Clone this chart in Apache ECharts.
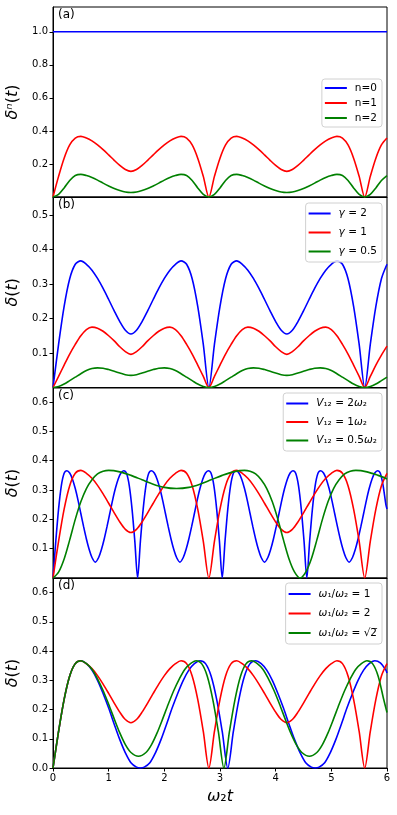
<!DOCTYPE html>
<html>
<head>
<meta charset="utf-8">
<script src="https://cdn.jsdelivr.net/npm/echarts@6/dist/echarts.min.js"></script>
<style>
html, body { margin: 0; padding: 0; background: #fff; }
#chart { width: 397px; height: 815px; }
</style>
</head>
<body>
<div id="chart"></div>
<script>
// time points, step 0.1
var tStep = [0, 0.1, 0.2, 0.3, 0.4, 0.5, 0.6, 0.7, 0.8, 0.9, 1.0, 1.1, 1.2, 1.3, 1.4, 1.5, 1.6, 1.7, 1.8, 1.9, 2.0,
	2.1, 2.2, 2.3, 2.4, 2.5, 2.6, 2.7, 2.8, 2.9, 3.0, 3.1, 3.2, 3.3, 3.4, 3.5, 3.6, 3.7, 3.8, 3.9, 4.0,
	4.1, 4.2, 4.3, 4.4, 4.5, 4.6, 4.7, 4.8, 4.9, 5.0, 5.1, 5.2, 5.3, 5.4, 5.5, 5.6, 5.7, 5.8, 5.9, 6.0];

// (a) n=1 ; same curve as gamma=2, V12=1w2, w1/w2=2
var deltaBase = [0, .125, .235, .315, .357, .367, .357, .34, .316, .287, .255, .222, .191, .166, .155, .166, .191, .222, .255, .287, .316,
	.34, .357, .367, .357, .315, .235, .125, 0, .125, .235, .315, .357, .367, .357, .34, .316, .287, .255, .222, .191,
	.166, .155, .166, .191, .222, .255, .287, .316, .34, .357, .367, .357, .315, .235, .125, 0, .125, .235, .315, .357];
var tN0 = [0, 6];
var deltaN0 = [1, 1];
var deltaN2 = [0, .016, .055, .1, .13, .137, .13, .118, .102, .084, .067, .051, .039, .03, .027, .03, .039, .051, .067, .084, .102,
	.118, .13, .137, .13, .1, .055, .016, 0, .016, .055, .1, .13, .137, .13, .118, .102, .084, .067, .051, .039,
	.03, .027, .03, .039, .051, .067, .084, .102, .118, .13, .137, .13, .1, .055, .016, 0, .016, .055, .1, .13];

// (b) gamma
var deltaG1 = [0, .032, .065, .097, .125, .15, .168, .175, .172, .163, .15, .135, .118, .104, .096, .104, .118, .135, .15, .163, .172,
	.175, .168, .15, .125, .097, .065, .032, 0, .032, .065, .097, .125, .15, .168, .175, .172, .163, .15, .135, .118,
	.104, .096, .104, .118, .135, .15, .163, .172, .175, .168, .15, .125, .097, .065, .032, 0, .032, .065, .094, .12];
var deltaG05 = [0, .003, .01, .02, .03, .04, .049, .055, .057, .056, .052, .047, .042, .037, .035, .037, .042, .047, .052, .056, .057,
	.055, .049, .04, .03, .02, .01, .003, 0, .003, .01, .02, .03, .04, .049, .055, .057, .056, .052, .047, .042,
	.037, .035, .037, .042, .047, .052, .056, .057, .055, .049, .04, .03, .02, .01, .003, 0, .003, .01, .02, .03];

// (c) V12 = 2w2
var tV2 = [0, .05, .1, .15, .2, .25, .3, .35, .4, .45, .5, .55, .6, .65, .7, .76, .82, .87, .92, .97, 1.02, 1.07, 1.12, 1.17, 1.22, 1.27, 1.32, 1.37, 1.42, 1.47, 1.52,
	1.57, 1.62, 1.67, 1.72, 1.77, 1.82, 1.87, 1.92, 1.97, 2.02, 2.07, 2.12, 2.17, 2.22, 2.28, 2.34, 2.39, 2.44, 2.49, 2.54, 2.59, 2.64, 2.69, 2.74, 2.79, 2.84, 2.89, 2.94, 2.99, 3.04,
	3.09, 3.14, 3.19, 3.24, 3.29, 3.34, 3.39, 3.44, 3.49, 3.54, 3.59, 3.64, 3.69, 3.74, 3.8, 3.86, 3.91, 3.96, 4.01, 4.06, 4.11, 4.16, 4.21, 4.26, 4.31, 4.36, 4.41, 4.46, 4.51, 4.56,
	4.61, 4.66, 4.71, 4.76, 4.81, 4.86, 4.91, 4.96, 5.01, 5.06, 5.11, 5.16, 5.21, 5.26, 5.32, 5.38, 5.43, 5.48, 5.53, 5.58, 5.63, 5.68, 5.73, 5.78, 5.83, 5.88, 5.93, 5.98, 6.0];
var deltaV2 = [0, .125, .235, .315, .357, .366, .358, .337, .305, .265, .22, .175, .133, .097, .07, .054, .07, .097, .133, .175, .22, .265, .305, .337, .358, .366, .357, .315, .235, .125, 0,
	.125, .235, .315, .357, .366, .358, .337, .305, .265, .22, .175, .133, .097, .07, .054, .07, .097, .133, .175, .22, .265, .305, .337, .358, .366, .357, .315, .235, .125, 0,
	.125, .235, .315, .357, .366, .358, .337, .305, .265, .22, .175, .133, .097, .07, .054, .07, .097, .133, .175, .22, .265, .305, .337, .358, .366, .357, .315, .235, .125, 0,
	.125, .235, .315, .357, .366, .358, .337, .305, .265, .22, .175, .133, .097, .07, .054, .07, .097, .133, .175, .22, .265, .305, .337, .358, .366, .357, .315, .25, .235];
// (c) V12 = 0.5w2
var tV05 = [0, .1, .2, .3, .4, .5, .6, .7, .8, .9, 1.0, 1.2, 1.4, 1.6, 1.8, 2.0, 2.22, 2.44, 2.64, 2.84, 3.04, 3.24, 3.44, 3.54, 3.64, 3.74, 3.84, 3.94,
	4.04, 4.14, 4.24, 4.34, 4.44, 4.54, 4.64, 4.74, 4.84, 4.94, 5.04, 5.14, 5.24, 5.34, 5.44, 5.64, 5.84, 6.0];
var deltaV05 = [0, .02, .065, .13, .2, .26, .305, .335, .355, .364, .367, .362, .35, .335, .32, .309, .305, .309, .32, .335, .35, .362, .367, .364, .355, .335, .305, .26,
	.2, .13, .065, .02, 0, .02, .065, .13, .2, .26, .305, .335, .355, .364, .367, .362, .35, .338];

// (d) w1/w2 = 1
var tW1 = [0, .1, .2, .3, .4, .5, .6, .7, .8, .9, 1.0, 1.1, 1.2, 1.3, 1.4, 1.5, 1.57, 1.64, 1.74, 1.84, 1.94, 2.04, 2.14, 2.24, 2.34, 2.44, 2.54, 2.64, 2.74, 2.84, 2.94, 3.04, 3.14,
	3.24, 3.34, 3.44, 3.54, 3.64, 3.74, 3.84, 3.94, 4.04, 4.14, 4.24, 4.34, 4.44, 4.54, 4.64, 4.71, 4.78, 4.88, 4.98, 5.08, 5.18, 5.28, 5.38, 5.48, 5.58, 5.68, 5.78, 5.88, 5.98, 6.0];
var deltaW1 = [0, .125, .235, .315, .357, .367, .357, .335, .3, .255, .205, .15, .097, .052, .018, .003, 0, .003, .018, .052, .097, .15, .205, .255, .3, .335, .357, .367, .357, .315, .235, .125, 0,
	.125, .235, .315, .357, .367, .357, .335, .3, .255, .205, .15, .097, .052, .018, .003, 0, .003, .018, .052, .097, .15, .205, .255, .3, .335, .357, .367, .36, .335, .325];
// (d) w1/w2 = sqrt(2)
var tWs = [0, .1, .2, .3, .4, .5, .6, .7, .8, .9, 1.0, 1.1, 1.2, 1.3, 1.4, 1.535, 1.67, 1.77, 1.87, 1.97, 2.07, 2.17, 2.27, 2.37, 2.47, 2.57, 2.67, 2.77, 2.87, 2.97, 3.07,
	3.17, 3.27, 3.37, 3.47, 3.57, 3.67, 3.77, 3.87, 3.97, 4.07, 4.17, 4.27, 4.37, 4.47, 4.605, 4.74, 4.84, 4.94, 5.04, 5.14, 5.24, 5.34, 5.44, 5.54, 5.64, 5.74, 5.84, 5.94, 6.0];
var deltaWs = [0, .125, .235, .315, .357, .367, .357, .338, .305, .265, .218, .168, .12, .08, .053, .04, .053, .08, .12, .168, .218, .265, .305, .338, .357, .367, .357, .315, .235, .125, 0,
	.125, .235, .315, .357, .367, .357, .338, .305, .265, .218, .168, .12, .08, .053, .04, .053, .08, .12, .168, .218, .265, .305, .338, .357, .367, .357, .315, .235, .19];

// axis ticks
var xTicks = [0, 1, 2, 3, 4, 5, 6];
var yTicksA = [0.2, 0.4, 0.6, 0.8, 1.0];
var yTicksB = [0.1, 0.2, 0.3, 0.4, 0.5];
var yTicksC = [0.1, 0.2, 0.3, 0.4, 0.5, 0.6];
var yTicksD = [0.0, 0.1, 0.2, 0.3, 0.4, 0.5, 0.6];
var yMax = [1.15, 0.552, 0.648, 0.65];

var panelTags = ['(a)', '(b)', '(c)', '(d)'];
var yNames = ['{i|δⁿ}({i|t})', '{i|δ}({i|t})', '{i|δ}({i|t})', '{i|δ}({i|t})'];
var namesA = ['n=0', 'n=1', 'n=2'];
var namesB = ['γ = 2', 'γ = 1', 'γ = 0.5'];
var namesC = ['V12 = 2w2', 'V12 = 1w2', 'V12 = 0.5w2'];
var namesD = ['w1/w2 = 1', 'w1/w2 = 2', 'w1/w2 = r2'];
var labelText = {
	'γ = 2': '{i|γ} = 2', 'γ = 1': '{i|γ} = 1', 'γ = 0.5': '{i|γ} = 0.5',
	'V12 = 2w2': '{i|V}₁₂ = 2{i|ω}₂', 'V12 = 1w2': '{i|V}₁₂ = 1{i|ω}₂', 'V12 = 0.5w2': '{i|V}₁₂ = 0.5{i|ω}₂',
	'w1/w2 = 1': '{i|ω}₁/{i|ω}₂ = 1', 'w1/w2 = 2': '{i|ω}₁/{i|ω}₂ = 2', 'w1/w2 = r2': '{i|ω}₁/{i|ω}₂ = √2̅'
};

var BLUE = '#0000ff', RED = '#ff0000', GREEN = '#008000';
var FONT = 'DejaVu Sans';

var chart = echarts.init(document.getElementById('chart'));

function pairs(t, y) {
	return t.map(function (x, i) { return [x, y[i]]; });
}

var gridTops = [7, 197, 388, 578];
var gridHeights = [190, 190.5, 190, 190];
var grids = [], xAxes = [], yAxes = [], titles = [];
var yTickSets = [yTicksA, yTicksB, yTicksC, yTicksD];

for (var k = 0; k < 4; k++) {
	grids.push({left: 53, right: 10, top: gridTops[k], height: gridHeights[k], show: true,
		containLabel: false, outerBoundsMode: 'none',
		borderColor: '#000', borderWidth: 1, backgroundColor: 'transparent'});
	var last = k === 3;
	xAxes.push({
		type: 'value', gridIndex: k, min: 0, max: 6, interval: 1,
		axisLine: {show: true, onZero: false, lineStyle: {color: '#000', width: 1}},
		axisTick: {show: last, length: 3.5, lineStyle: {color: '#000'}},
		axisLabel: {show: last, fontSize: 10, color: '#000', margin: 5, fontFamily: FONT},
		splitLine: {show: false},
		name: last ? '{i|ω}₂{i|t}' : '',
		nameLocation: 'middle', nameGap: 21,
		nameTextStyle: {fontSize: 16, color: '#000', fontFamily: FONT,
			rich: {i: {fontStyle: 'italic', fontSize: 16, fontFamily: FONT, color: '#000'}}}
	});
	yAxes.push({
		type: 'value', gridIndex: k, min: 0, max: yMax[k],
		axisLine: {show: true, lineStyle: {color: '#000', width: 1}},
		axisTick: {show: true, length: 3.5, lineStyle: {color: '#000'}, customValues: yTickSets[k]},
		axisLabel: {fontSize: 10, color: '#000', margin: 5, fontFamily: FONT, customValues: yTickSets[k],
			formatter: function (v) { return v.toFixed(1); }},
		splitLine: {show: false},
		name: yNames[k], nameLocation: 'middle', nameGap: 28,
		nameTextStyle: {fontSize: 16, color: '#000', fontFamily: FONT,
			rich: {i: {fontStyle: 'italic', fontSize: 16, fontFamily: FONT, color: '#000'}}}
	});
	titles.push({text: panelTags[k], left: 58, top: gridTops[k] + 2, padding: 0,
		textStyle: {fontSize: 12, fontWeight: 'normal', color: '#000', fontFamily: FONT}});
}

function line(name, idx, data, color) {
	return {
		type: 'line', name: name, xAxisIndex: idx, yAxisIndex: idx, data: data,
		showSymbol: false, smooth: 0.3, animation: false,
		lineStyle: {width: 1.6, color: color}, itemStyle: {color: color}
	};
}

function legendFor(names, top, rowH, gap, pad) {
	return {
		data: names, orient: 'vertical', right: 15, top: top,
		icon: 'rect', itemWidth: 22, itemHeight: 2, itemGap: gap,
		padding: [pad, 5, pad, 3],
		backgroundColor: 'rgba(255,255,255,0.8)', borderColor: '#d0d0d0', borderWidth: 1, borderRadius: 3,
		selectedMode: false,
		formatter: function (n) { return labelText[n] || n; },
		textStyle: {fontSize: 10.5, color: '#000', fontFamily: FONT, lineHeight: rowH, padding: [0, 0, 0, 3],
			rich: {i: {fontStyle: 'italic', fontSize: 10.5, fontFamily: FONT, color: '#000', lineHeight: rowH}}}
	};
}

var option = {
	animation: false,
	textStyle: {fontFamily: FONT},
	title: titles,
	grid: grids,
	xAxis: xAxes,
	yAxis: yAxes,
	legend: [
		legendFor(namesA, 79, 12, 3, 3),
		legendFor(namesB, 203, 14, 5, 3.5),
		legendFor(namesC, 393, 14, 4.5, 3.5),
		legendFor(namesD, 583, 15, 4.5, 3.5)
	],
	series: [
		line(namesA[0], 0, pairs(tN0, deltaN0), BLUE),
		line(namesA[1], 0, pairs(tStep, deltaBase), RED),
		line(namesA[2], 0, pairs(tStep, deltaN2), GREEN),
		line(namesB[0], 1, pairs(tStep, deltaBase), BLUE),
		line(namesB[1], 1, pairs(tStep, deltaG1), RED),
		line(namesB[2], 1, pairs(tStep, deltaG05), GREEN),
		line(namesC[0], 2, pairs(tV2, deltaV2), BLUE),
		line(namesC[1], 2, pairs(tStep, deltaBase), RED),
		line(namesC[2], 2, pairs(tV05, deltaV05), GREEN),
		line(namesD[0], 3, pairs(tW1, deltaW1), BLUE),
		line(namesD[1], 3, pairs(tStep, deltaBase), RED),
		line(namesD[2], 3, pairs(tWs, deltaWs), GREEN)
	]
};
chart.setOption(option);
</script>
</body>
</html>
